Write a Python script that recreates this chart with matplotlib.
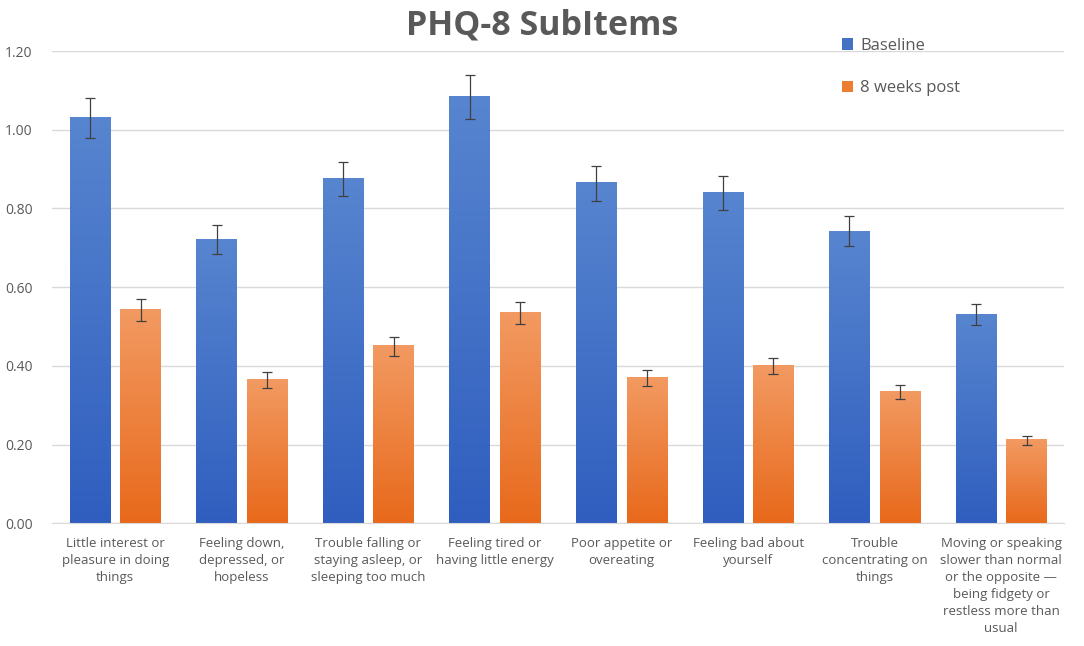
import numpy as np
import matplotlib
matplotlib.use("Agg")
import matplotlib.pyplot as plt
from matplotlib.colors import LinearSegmentedColormap

plt.rcParams['font.family'] = ['Open Sans', 'DejaVu Sans']

categories = [
    "Little interest or\npleasure in doing\nthings",
    "Feeling down,\ndepressed, or\nhopeless",
    "Trouble falling or\nstaying asleep, or\nsleeping too much",
    "Feeling tired or\nhaving little energy",
    "Poor appetite or\novereating",
    "Feeling bad about\nyourself",
    "Trouble\nconcentrating on\nthings",
    "Moving or speaking\nslower than normal\nor the opposite \u2014\nbeing fidgety or\nrestless more than\nusual",
]
baseline = [1.03, 0.72, 0.875, 1.083, 0.864, 0.84, 0.742, 0.531]
baseline_err = [0.050, 0.037, 0.044, 0.055, 0.044, 0.043, 0.038, 0.027]
post = [0.542, 0.364, 0.450, 0.534, 0.369, 0.400, 0.333, 0.211]
post_err = [0.028, 0.020, 0.024, 0.028, 0.020, 0.020, 0.018, 0.011]
yticks = [0.0, 0.2, 0.4, 0.6, 0.8, 1.0, 1.2]

grey = '#595959'
fig = plt.figure(figsize=(10.84, 6.46), dpi=100)
ax = fig.add_axes([0.048, 0.19, 0.934, 0.731])

x = np.arange(len(categories))
w = 0.32
off = 0.2

b1 = ax.bar(x - off, baseline, w, color='#4472C4', label='Baseline', zorder=2)
b2 = ax.bar(x + off, post, w, color='#ED7D31', label='8 weeks post', zorder=2)

# gradient fill, lighter at top
cm_blue = LinearSegmentedColormap.from_list('b', ['#2F5EBF', '#5885CF'])
cm_orange = LinearSegmentedColormap.from_list('o', ['#E8691B', '#F29A62'])
grad = np.linspace(0, 1, 256).reshape(-1, 1)
for bars, cmap in ((b1, cm_blue), (b2, cm_orange)):
    for r in bars:
        x0, y0 = r.get_x(), r.get_y()
        ax.imshow(grad, cmap=cmap, origin='lower', aspect='auto',
                  extent=(x0, x0 + r.get_width(), y0, y0 + r.get_height()),
                  zorder=2.5)

ax.errorbar(x - off, baseline, yerr=baseline_err, fmt='none', ecolor='#404040',
            elinewidth=0.9, capsize=3.5, capthick=0.9, zorder=3)
ax.errorbar(x + off, post, yerr=post_err, fmt='none', ecolor='#404040',
            elinewidth=0.9, capsize=3.5, capthick=0.9, zorder=3)

ax.set_xlim(-0.5, len(categories) - 0.5)
ax.set_ylim(0, 1.2)
ax.set_yticks(yticks)
ax.set_yticklabels([f"{v:.2f}" for v in yticks], color=grey, fontsize=10)
ax.set_xticks(x)
ax.set_xticklabels(categories, color=grey, fontsize=9.5, linespacing=1.4,
                   va='top')
ax.tick_params(axis='both', length=0)
ax.tick_params(axis='x', pad=10)
ax.tick_params(axis='y', pad=14)
ax.grid(axis='y', color='#D9D9D9', linewidth=1, zorder=0)
ax.set_axisbelow(True)
for s in ['top', 'right', 'left']:
    ax.spines[s].set_visible(False)
ax.spines['bottom'].set_color('#D9D9D9')

ax.legend(loc='upper left', bbox_to_anchor=(0.765, 1.06), frameon=False,
          fontsize=12, labelcolor=grey, handlelength=0.7, handleheight=0.7,
          handletextpad=0.4, labelspacing=1.6)

fig.text(0.5, 0.96, 'PHQ-8 SubItems', ha='center', va='center',
         fontsize=24.5, fontweight='bold', color=grey)

fig.savefig('out.png', dpi=100)
